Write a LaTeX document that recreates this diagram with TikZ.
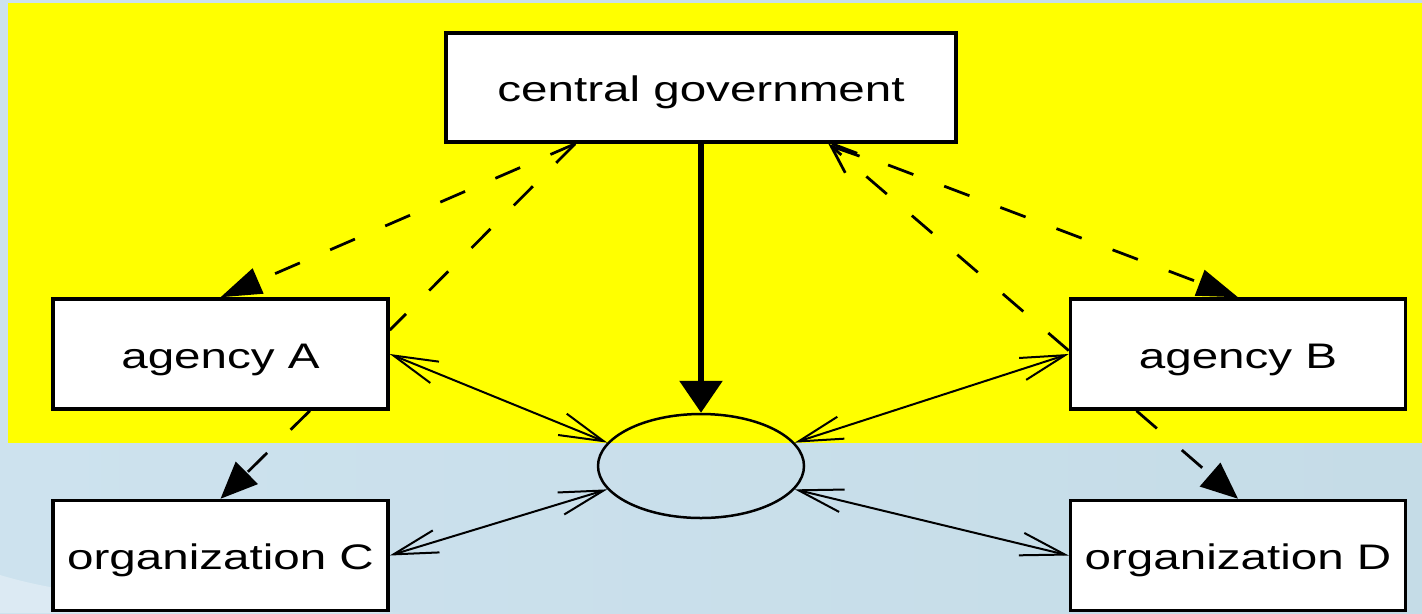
\documentclass[tikz,border=0pt]{standalone}
\usepackage{fontspec}
\usepackage{tikz}
\usetikzlibrary{arrows.meta,positioning,calc,shapes.geometric}
\newfontfamily\boxfont{Liberation Sans}[FakeStretch=1.34]
\definecolor{slideyellow}{RGB}{255,255,0}
\definecolor{slidebluel}{RGB}{205,226,238}
\definecolor{slidebluer}{RGB}{197,220,231}

\begin{document}
\begin{tikzpicture}[
        node distance=1.76cm,
        % White boxes with a heavy frame; labels in a wide sans face.
        box/.style={rectangle, draw, line width=0.07cm, fill=white, text=black,
            minimum width=#1,
            minimum height=2.2cm,
            inner sep=0pt, text height=0.56cm, text depth=0pt,
            align=center, font=\boxfont\fontsize{20.2pt}{24pt}\selectfont},
        box/.default=6.7cm,
        ctrl/.style={line width=0.055cm, dash pattern=on 0.54cm off 0.66cm},
        link/.style={line width=0.04cm, >={Straight Barb[length=0.89cm, width=0.46cm]}, <->}
    ]
        % Slide background
        \useasboundingbox (0,0) rectangle (28.44,-12.26);
        \shade[left color=slidebluel, right color=slidebluer] (0,0) rectangle (28.44,-12.26);
        \fill[white, opacity=0.3] (0,-11.5) .. controls (1.5,-11.95) and (3.5,-12.1) .. (8,-12.26)
            -- (0,-12.26) -- cycle;
        \fill[slideyellow] (0.16,-0.06) rectangle (28.44,-8.86);

        \node[box=10.2cm, minimum height=2.18cm] (node1) at (14.02,-1.75) {central government};
        \node[box] (node2) at (4.41,-7.08) {agency A};
        \node[box, right=13.58cm of node2] (node3) {agency B};
        \node[box, below=of node2] (node4) {organization C};
        \node[box, below=of node3] (node5) {organization D};
        \node[ellipse, draw, line width=0.05cm, inner sep=0pt,
            minimum width=4.12cm, minimum height=2.08cm, below=5.38cm of node1] (node6) {};

        % Connections
        \draw[line width=0.12cm, -{Triangle[length=0.64cm, width=0.84cm]}] (node1.south) -- (node6.north);
        \draw[ctrl, -{Triangle[length=0.82cm, width=0.54cm]}] ($(node1.south west)!0.255!(node1.south east)$) -- (node2.north);
        \draw[ctrl] ($(node1.south west)!0.255!(node1.south east)$) -- ($(node2.north east)!0.29!(node2.south east)$);
        \draw[ctrl, -{Triangle[length=0.82cm, width=0.54cm]}] ($(node1.south west)!0.755!(node1.south east)$) -- (node3.north);
        \draw[ctrl, -{Straight Barb[length=0.56cm, width=0.44cm]}] ($(node3.north west)!0.47!(node3.south west)$) -- ($(node1.south west)!0.748!(node1.south east)$);
        \draw[ctrl, -{Triangle[length=0.74cm, width=0.62cm]}] ($(node2.south west)!0.764!(node2.south east)$) -- (node4.north);
        \draw[ctrl, -{Triangle[length=0.74cm, width=0.62cm]}] ($(node3.south west)!0.2!(node3.south east)$) -- (node5.north);

        \draw[link] (node2.east) -- (node6.166);
        \draw[link] (node4.east) -- (node6.194.7);
        \draw[link] (node3.west) -- (node6.14.6);
        \draw[link] (node5.west) -- (node6.346);
    \end{tikzpicture}
\end{document}
